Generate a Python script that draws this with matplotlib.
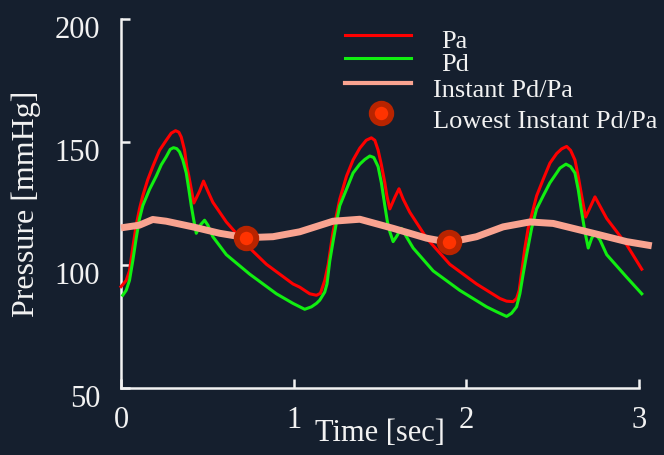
import numpy as np
import matplotlib
matplotlib.use("Agg")
import matplotlib.pyplot as plt
from matplotlib.transforms import ScaledTranslation

plt.rcParams["font.family"] = ["Liberation Serif", "DejaVu Serif"]

BG = "#151f2e"
FG = "#f2f2f2"

# aortic pressure Pa (mmHg) vs time (s)
t_pa = [0.000, 0.030, 0.049, 0.068, 0.088, 0.107, 0.126, 0.155, 0.184, 0.223, 0.262,
        0.291, 0.316, 0.335, 0.349, 0.368, 0.381, 0.393, 0.407, 0.422, 0.455, 0.478,
        0.503, 0.532, 0.610, 0.726, 0.842, 0.996, 1.035, 1.093, 1.132, 1.155, 1.180,
        1.200, 1.228, 1.267, 1.306, 1.344, 1.383, 1.420, 1.450, 1.470, 1.489, 1.508,
        1.528, 1.540, 1.557, 1.586, 1.610, 1.634, 1.672, 1.770, 1.904, 2.059, 2.194,
        2.233, 2.271, 2.291, 2.306, 2.329, 2.339, 2.358, 2.378, 2.407, 2.445, 2.484,
        2.523, 2.552, 2.581, 2.604, 2.629, 2.648, 2.668, 2.691, 2.745, 2.813, 2.929,
        3.016]
pa = [91.2, 93.7, 97.6, 107.0, 116.2, 122.8, 128.1, 134.7, 140.0, 146.6, 150.7,
      153.6, 154.6, 154.0, 152.0, 146.7, 140.0, 136.1, 130.8, 125.2, 130.0, 134.1,
      130.0, 125.5, 117.5, 108.2, 100.3, 92.3, 91.0, 88.3, 87.7, 88.5, 93.7,
      100.3, 113.5, 126.8, 136.1, 142.7, 147.5, 150.7, 151.7, 150.7, 146.7, 140.7,
      133.4, 128.1, 122.8, 127.5, 131.0, 126.8, 121.5, 110.9, 100.3, 92.3, 86.4,
      85.3, 85.1, 86.4, 89.7, 101.6, 106.9, 114.9, 120.2, 128.1, 134.8, 141.4,
      145.3, 147.2, 148.2, 146.6, 142.7, 136.1, 128.1, 119.5, 127.7, 118.9, 108.2,
      98.3]

# distal pressure Pd (mmHg)
t_pd = [0.010, 0.030, 0.049, 0.068, 0.088, 0.107, 0.126, 0.165, 0.204, 0.233, 0.262,
        0.285, 0.304, 0.323, 0.339, 0.358, 0.378, 0.393, 0.407, 0.420, 0.436, 0.459,
        0.484, 0.503, 0.532, 0.610, 0.745, 0.900, 0.996, 1.064, 1.103, 1.132, 1.151,
        1.180, 1.193, 1.209, 1.228, 1.248, 1.267, 1.306, 1.344, 1.383, 1.412, 1.441,
        1.464, 1.489, 1.508, 1.528, 1.543, 1.557, 1.576, 1.595, 1.624, 1.692, 1.808,
        1.962, 2.117, 2.175, 2.233, 2.262, 2.291, 2.310, 2.329, 2.349, 2.378, 2.407,
        2.445, 2.484, 2.523, 2.542, 2.577, 2.604, 2.629, 2.648, 2.668, 2.687, 2.706,
        2.726, 2.745, 2.774, 2.813, 2.929, 3.016]
pd_ = [87.7, 89.7, 93.7, 101.6, 110.9, 118.8, 124.1, 130.7, 136.1, 140.7, 144.0,
       147.0, 147.7, 147.3, 146.0, 142.7, 137.4, 130.7, 124.1, 118.8, 112.9, 116.2,
       118.2, 116.2, 111.5, 104.2, 96.3, 88.3, 84.4, 82.0, 83.0, 84.4, 85.7,
       89.0, 92.3, 101.6, 109.5, 117.5, 124.1, 130.8, 137.4, 141.0, 142.9, 144.3,
       143.7, 140.0, 133.4, 124.1, 117.5, 113.5, 109.5, 111.5, 114.9, 106.9, 97.6,
       89.7, 83.0, 81.0, 79.1, 80.4, 83.0, 88.3, 96.3, 104.2, 114.9, 122.8,
       128.1, 133.4, 137.4, 139.4, 141.0, 140.0, 137.4, 130.7, 121.5, 113.5, 106.9,
       110.9, 112.9, 110.2, 104.2, 95.0, 88.3]

# instantaneous Pd/Pa curve (drawn on pressure scale)
t_ratio = [0.00, 0.107, 0.184, 0.262, 0.416, 0.571, 0.726, 0.880, 1.035, 1.228,
           1.383, 1.576, 1.770, 1.900, 2.059, 2.213, 2.368, 2.503, 2.735, 2.929, 3.074]
ratio = [115.1, 116.2, 118.5, 117.8, 115.5, 112.9, 111.1, 111.5, 113.5, 117.8,
         118.6, 114.9, 110.9, 109.2, 111.5, 115.5, 117.5, 116.9, 112.9, 109.5, 107.8]

# lowest instant Pd/Pa points
t_low = [0.726, 1.900]
low = [111.1, 109.2]

W, H = 664, 455


def fig_xy(px, py):
    return px / W, 1 - py / H


fig = plt.figure(figsize=(W / 100, H / 100), dpi=100, facecolor=BG)
ax = fig.add_axes([121 / W, 1 - 388 / H, 518 / W, 369 / H], facecolor=BG)

ax.plot(t_pa, pa, color="#ff0000", lw=2.2, clip_on=False, zorder=3)
ax.plot(t_pd, pd_, color="#11ee11", lw=2.2, clip_on=False, zorder=3)
ax.plot(t_ratio, ratio, color="#f9a390", lw=5, clip_on=False, zorder=4,
        solid_capstyle="butt")
ax.plot(t_low, low, "o", ms=14, mfc="#ff3300", mec="#b82400", mew=4.3,
        zorder=5, clip_on=False)

ax.set_xlim(0, 3)
ax.set_ylim(50, 200)
ax.set_xticks([0, 1, 2, 3])
ax.set_yticks([50, 100, 150, 200])

for s in ["top", "right"]:
    ax.spines[s].set_visible(False)
for s in ["left", "bottom"]:
    ax.spines[s].set_color(FG)
    ax.spines[s].set_linewidth(1.8)

ax.tick_params(axis="both", direction="in", length=6.5, width=1.8,
               color=FG, labelcolor=FG, labelsize=22)
ax.tick_params(axis="y", pad=15)
ax.tick_params(axis="x", pad=13)

off = ScaledTranslation(0, -8 / 100, fig.dpi_scale_trans)
for lab in ax.get_yticklabels():
    lab.set_transform(lab.get_transform() + off)

ax.set_xlabel("Time [sec]", color=FG, fontsize=22)
ax.xaxis.set_label_coords(0.5, -0.085)
ax.set_ylabel("Pressure [mmHg]", color=FG, fontsize=23)
ax.yaxis.set_label_coords(-0.155, 0.5)

# hand placed legend
legend_rows = [
    ("Pa", "#ff0000", 2.2, 35, 441, 42),
    ("Pd", "#11ee11", 2.2, 58, 441, 65),
    ("Instant Pd/Pa", "#f9a390", 3.0, 83, 433, 91),
]
for label, col, lw, ly, tx, ty in legend_rows:
    x0, y0 = fig_xy(345, ly)
    x1, _ = fig_xy(411, ly)
    fig.add_artist(plt.Line2D([x0, x1], [y0, y0], color=col, lw=lw,
                              transform=fig.transFigure))
    fig.text(*fig_xy(tx, ty), label, color=FG, fontsize=19, va="center")

mx, my = fig_xy(381, 113)
fig.add_artist(plt.Line2D([mx], [my], marker="o", ms=14, mfc="#ff3300",
                          mec="#b82400", mew=4.3, transform=fig.transFigure))
fig.text(*fig_xy(433, 122), "Lowest Instant Pd/Pa", color=FG, fontsize=19,
         va="center")

fig.savefig("out.png", dpi=100, facecolor=BG)
